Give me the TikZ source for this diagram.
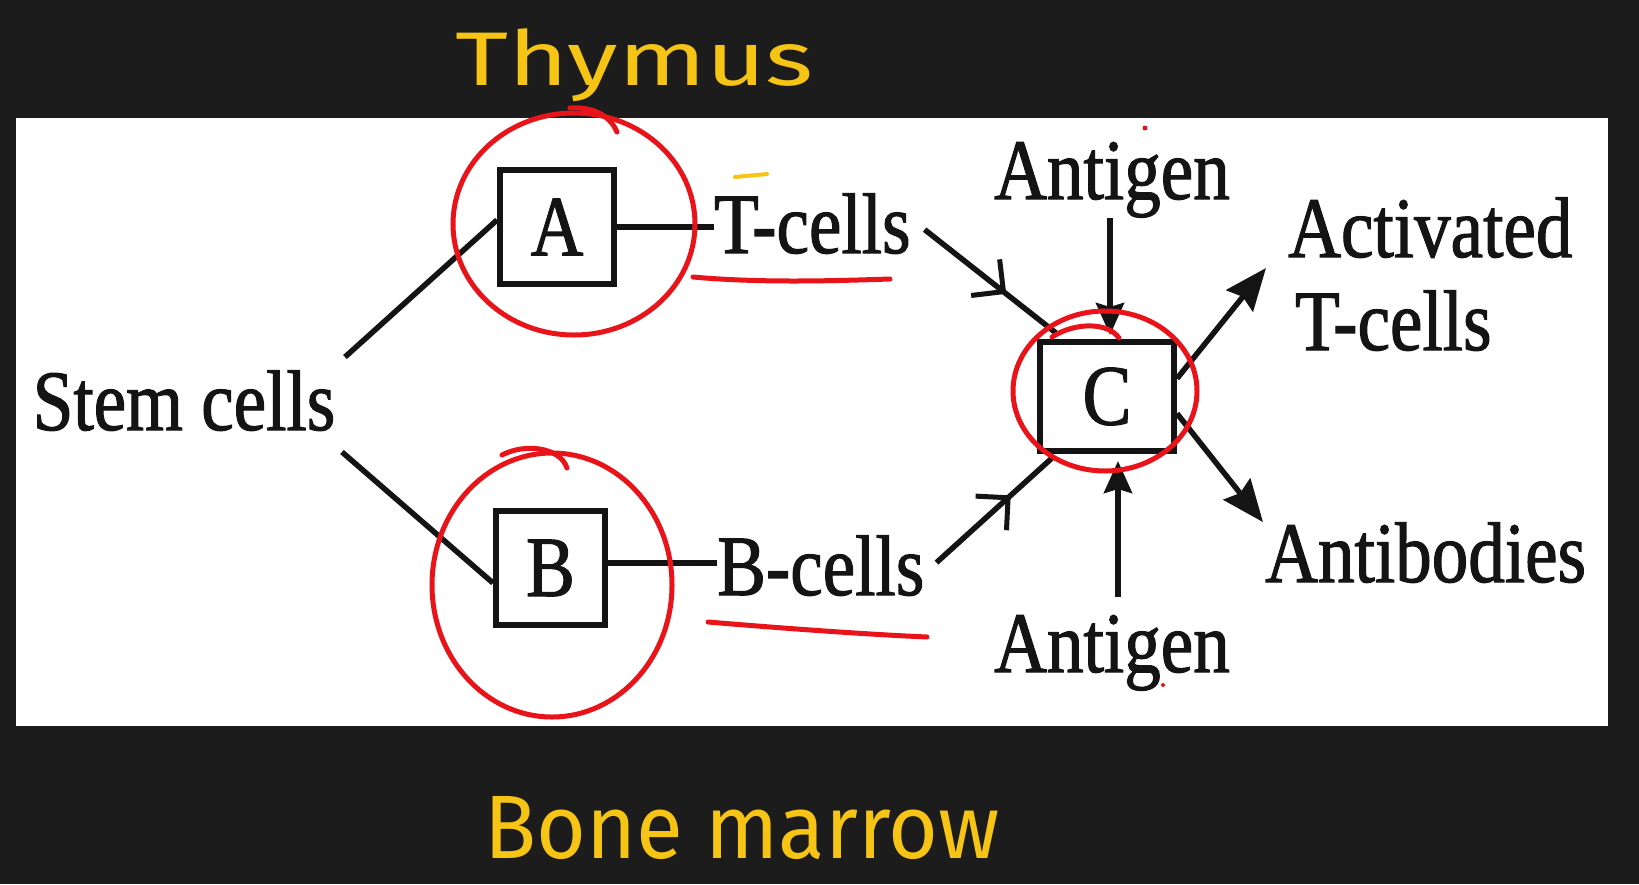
\documentclass[tikz,border=0pt]{standalone}
\usepackage{fontspec}
\newfontfamily\diagfont[FakeStretch=0.85,FakeBold=1.3]{Liberation Serif}
\newfontfamily\handthy[FakeStretch=1.35]{Fira Sans}
\newfontfamily\handbm[FakeStretch=0.95]{Fira Sans}
\usetikzlibrary{arrows.meta,decorations.markings,calc}
\definecolor{bgdark}{RGB}{28,28,28}
\definecolor{inkred}{RGB}{232,20,26}
\definecolor{inkyel}{RGB}{245,196,20}
\definecolor{txt}{RGB}{20,20,20}
\begin{document}
\begin{tikzpicture}[x=1pt,y=-1pt,
  lbl/.style={font=\diagfont\fontsize{86}{92}\selectfont, text=txt, inner sep=0pt},
  cellbox/.style={draw=txt, line width=6pt, inner sep=0pt, font=\diagfont\fontsize{86}{92}\selectfont, text=txt},
  conn/.style={draw=txt, line width=5.5pt},
  midarrow/.style={postaction={decorate}, decoration={markings, mark=at position #1 with {\draw[txt, line width=5pt, line join=miter] (-23pt,23pt) -- (0pt,0pt) -- (-23pt,-23pt);}}},
  bighead/.style={-{Stealth[length=42pt,width=34pt,inset=5pt]}},
  smallhead/.style={-{Stealth[length=32pt,width=28pt,inset=4pt]}},
  redink/.style={draw=inkred, line width=5pt, line cap=round},
  yelink/.style={draw=inkyel, line width=4pt, line cap=round},
]
\useasboundingbox (0,0) rectangle (1639,884);
\fill[bgdark] (0,0) rectangle (1639,884);
\fill[white] (16,118) rectangle (1608,726);

% nodes
\node[lbl, anchor=base] (stem) at (184,430) {Stem cells};
\node[cellbox, minimum width=114pt, minimum height=114pt] (A) at (557,227) {A};
\node[cellbox, minimum width=109pt, minimum height=114pt] (B) at (550.5,568) {B};
\node[cellbox, minimum width=134pt, minimum height=109pt] (C) at (1107,396.5) {C};
\node[lbl, anchor=base west] (tcells) at (714,253) {T-cells};
\node[lbl, anchor=base west] (bcells) at (717,595) {B-cells};
\node[lbl, anchor=base] (agtop) at (1112,199) {Antigen};
\node[lbl, anchor=base] (agbot) at (1112,672) {Antigen};
\node[lbl, anchor=base west] (act) at (1288,257) {Activated};
\node[lbl, anchor=base west] (act2) at (1295,350) {T-cells};
\node[lbl, anchor=base west] (antib) at (1265,582) {Antibodies};

% connectors
\coordinate (s1) at (345,357);
\coordinate (s2) at (342,452);
\draw[conn] (s1) -- ([yshift=7pt]A.west);
\draw[conn] (s2) -- ([yshift=-15pt]B.west);
\draw[conn] (A.east) -- (A.east -| tcells.west);
\draw[conn] ([yshift=5pt]B.east) -- ([yshift=5pt]B.east -| bcells.west);
\draw[conn, midarrow=0.6] ([xshift=14pt,yshift=-6pt]tcells.east) -- ([xshift=19pt,yshift=6pt]C.north west);
\draw[conn, midarrow=0.62] ([xshift=12pt,yshift=3pt]bcells.east) -- ([xshift=15pt,yshift=-4pt]C.south west);
\draw[conn, smallhead, shorten >=4pt] ([xshift=-2pt]agtop.south) -- ([xshift=-2pt]agtop.south |- C.north);
\draw[conn, smallhead, shorten >=7pt] ([xshift=6pt,yshift=18pt]agbot.north) -- ([xshift=6pt]agbot.north |- C.south);
\draw[conn, bighead] ([yshift=18pt]C.east) -- ([xshift=-22pt,yshift=-11pt]act.base west);
\draw[conn, bighead] ([yshift=-17pt]C.east) -- ([xshift=-2pt]antib.north west);

% red annotations
\draw[redink] (574,224) ellipse [x radius=121pt, y radius=111pt];
\draw[redink] (570,108) .. controls (598,106) and (612,120) .. (617,132);
\draw[redink] (552,585) ellipse [x radius=120pt, y radius=132pt];
\draw[redink] (502,455) .. controls (525,443) and (560,447) .. (567,468);
\draw[redink] (1105,391) ellipse [x radius=92pt, y radius=80pt];
\draw[redink] (1052,337) .. controls (1075,322) and (1108,322) .. (1119,338);
\draw[redink] (693,277) .. controls (760,283) and (830,281) .. (890,279);
\draw[redink] (708,622) .. controls (780,628) and (860,634) .. (927,637);
\fill[inkred] (1145,128) circle (2.5pt);
\fill[inkred] (1163,685) circle (2pt);

% yellow annotations
\node[text=inkyel, font=\handthy\fontsize{76}{80}\selectfont, anchor=base west, inner sep=0pt] (thy) at (455,85) {Thymus};
\node[text=inkyel, font=\handbm\fontsize{90}{96}\selectfont, anchor=base west, inner sep=0pt] (bm) at (484,858) {Bone marrow};
\draw[yelink] (735,177) -- (767,174);
\end{tikzpicture}
\end{document}
